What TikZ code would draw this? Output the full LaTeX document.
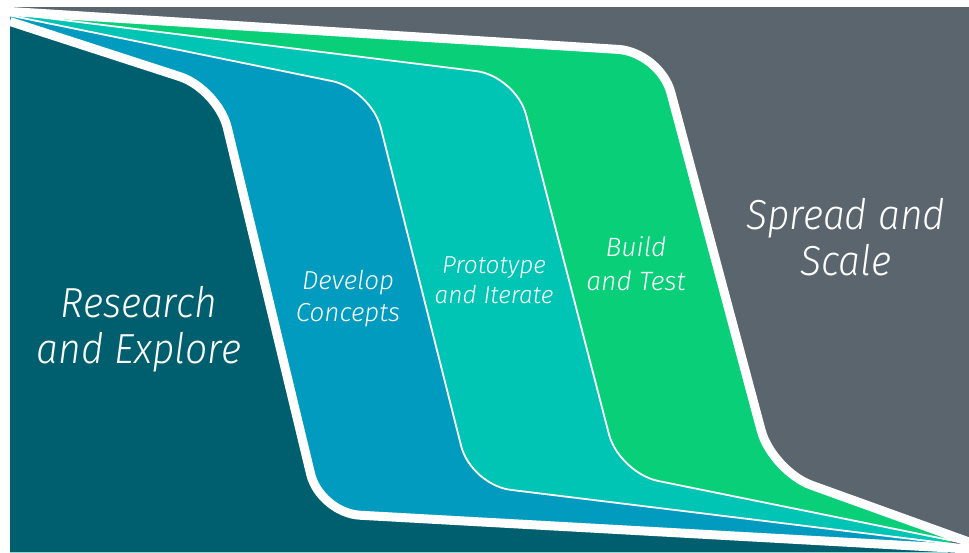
\documentclass[tikz,border=0pt]{standalone}
\usepackage{fontspec}
\newfontfamily\lab{Fira Sans Light Italic}
\newfontfamily\labbig{Fira Sans Light Italic}[FakeStretch=0.93]
\definecolor{cdark}{HTML}{005F6E}
\definecolor{cblue}{HTML}{009BBE}
\definecolor{cteal}{HTML}{00C4B4}
\definecolor{cgreen}{HTML}{08CF78}
\definecolor{cgray}{HTML}{5A656E}
\tikzset{
  cA/.style={rounded corners=40pt, insert path={(10,21.5) -- (218,89) -- (320,513) -- (969,549)}},
  cB/.style={rounded corners=40pt, insert path={(10,15.5) -- (371,89) -- (471,485) -- (969,546)}},
  cC/.style={rounded corners=40pt, insert path={(10,13.5) -- (516,76) -- (619,473) -- (969,544)}},
  cD/.style={rounded corners=42pt, insert path={(10,11.5) -- (660,52) -- (772,471) -- (969,542)}},
  thickline/.style={draw=white, line width=9pt},
  thinline/.style={draw=white, line width=1.8pt},
  lbl/.style={text=white, align=center, anchor=base, inner sep=0pt},
}
\begin{document}
\begin{tikzpicture}[x=1pt, y=-1pt]
\useasboundingbox (0,0) rectangle (969,552);
\fill[white] (0,0) rectangle (969,552);
\fill[cgray] (10,7) rectangle (969,552);
\fill[cgreen] [cD] [sharp corners] -- (969,552) -- (10,552) -- cycle;
\fill[cteal] [cC] [sharp corners] -- (969,552) -- (10,552) -- cycle;
\fill[cblue] [cB] [sharp corners] -- (969,552) -- (10,552) -- cycle;
\fill[cdark] [cA] [sharp corners] -- (969,552) -- (10,552) -- cycle;
\begin{scope}
\clip (10,7) rectangle (969,552);
\path[thinline] [cB];
\path[thinline] [cC];
\path[thickline] [cA];
\path[thickline] [cD];
\end{scope}
\node[lbl, font=\labbig\fontsize{42}{46}\selectfont] (research) at (139,363) {Research\\and Explore};
\node[lbl, font=\lab\fontsize{26}{32}\selectfont] (develop) at (348,321.5) {Develop\\Concepts};
\node[lbl, font=\lab\fontsize{24.5}{30}\selectfont] (prototype) at (494,303.5) {Prototype\\and Iterate};
\node[lbl, font=\lab\fontsize{26.5}{34}\selectfont] (build) at (636,290) {Build\\and Test};
\node[lbl, font=\labbig\fontsize{42}{46}\selectfont] (spread) at (846,275) {Spread and\\Scale};
\end{tikzpicture}
\end{document}
